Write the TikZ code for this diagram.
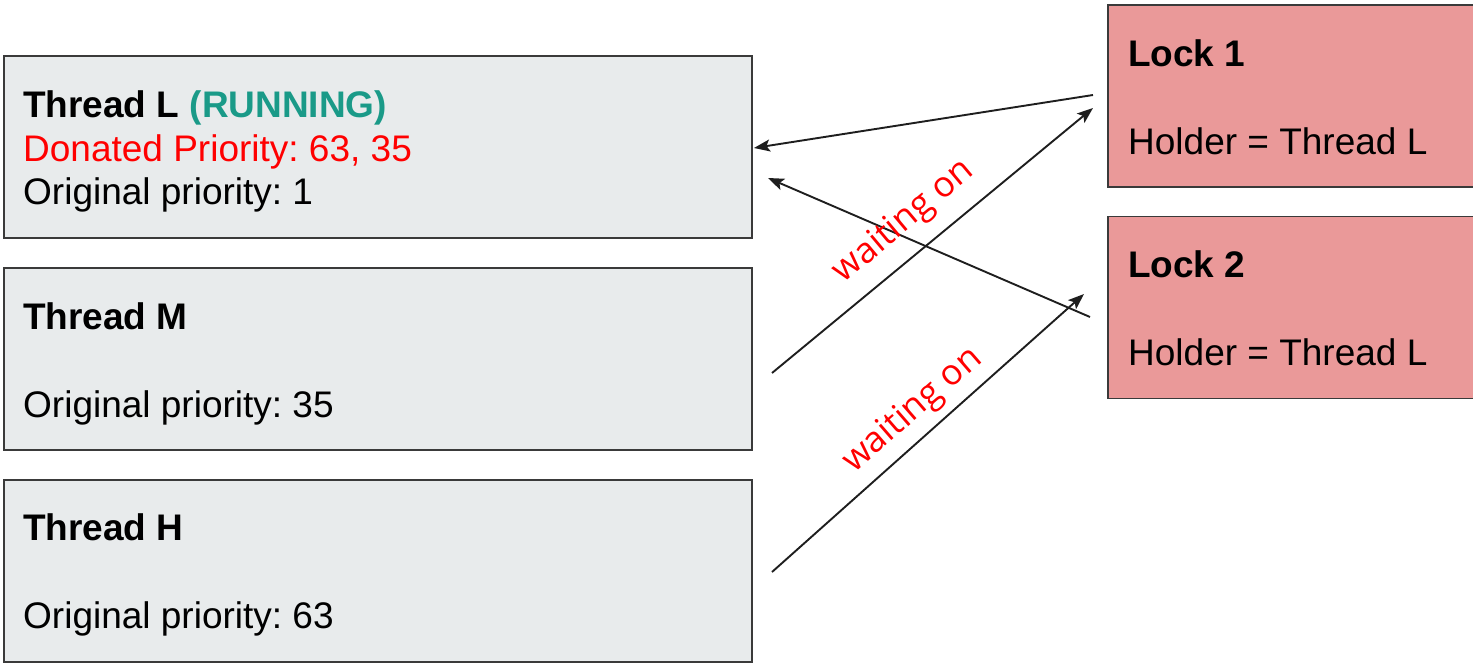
\documentclass[tikz,border=0pt]{standalone}
\usepackage{fontspec}
\setmainfont{Liberation Sans}
\newfontfamily\labelfont{Open Sans}
\usetikzlibrary{arrows.meta}
\frenchspacing
\definecolor{threadfill}{HTML}{E8EBEC}
\definecolor{lockfill}{HTML}{EA9999}
\definecolor{boxline}{HTML}{3A3A3A}
\definecolor{runteal}{HTML}{1A9A88}
\definecolor{donred}{HTML}{FF0000}
\definecolor{arrowline}{HTML}{1E1E1E}
\tikzset{
  box/.style={draw=boxline, line width=1.6pt, inner sep=0pt},
  threadbox/.style={box, fill=threadfill, minimum width=748pt, minimum height=182pt},
  lockbox/.style={box, fill=lockfill, minimum width=380pt, minimum height=182pt},
  txt/.style={anchor=base west, inner sep=0pt, font=\fontsize{37}{44}\selectfont},
  head/.style={txt, font=\fontsize{37}{44}\selectfont\bfseries},
  link/.style={draw=arrowline, line width=1.9pt, -{Stealth[length=16pt, width=12pt, inset=3.5pt]}},
  waitlabel/.style={inner sep=0pt, text=donred, font=\labelfont\fontsize{35.5}{42}\selectfont}
}
\begin{document}
\begin{tikzpicture}[x=1pt, y=-1pt]
\useasboundingbox (0,0) rectangle (1473,665);

% thread boxes
\node[threadbox] (tl) at (378,147) {};
\node[threadbox] (tm) at (378,359) {};
\node[threadbox] (th) at (378,571) {};
% lock boxes (running off the right edge)
\node[lockbox] (l1) at (1298,96) {};
\node[lockbox] (l2) at (1298,307.5) {};

% thread texts
\node[head] (tlname) at (23,117) {Thread L \textcolor{runteal}{(RUNNING)}};
\node[txt, text=donred] (tldon) at (23,161) {Donated Priority: 63, 35};
\node[txt] (tlorig) at (23,204) {Original priority: 1};
\node[head] (tmname) at (23,329) {Thread M};
\node[txt] (tmorig) at (23,417) {Original priority: 35};
\node[head] (thname) at (23,540) {Thread H};
\node[txt] (thorig) at (23,628) {Original priority: 63};

% lock texts
\node[head] (l1name) at (1128,66) {Lock 1};
\node[txt] (l1hold) at (1128,154) {Holder = Thread L};
\node[head] (l2name) at (1128,277) {Lock 2};
\node[txt] (l2hold) at (1128,365) {Holder = Thread L};

% connector end points
\coordinate (l1out) at (1093,95);
\coordinate (tlin1) at (754,148);
\coordinate (l2out) at (1090,317);
\coordinate (tlin2) at (768,178);
\coordinate (tmout) at (772,373);
\coordinate (l1in) at (1093,108);
\coordinate (thout) at (772,572);
\coordinate (l2in) at (1084,294);

% holders point back to Thread L
\draw[link] (l1out) -- (tlin1);
\draw[link] (l2out) -- (tlin2);
% waiting threads point to the locks
\draw[link] (tmout) -- (l1in);
\draw[link] (thout) -- (l2in);

% labels
\node[waitlabel, rotate=40] (w1) at (904,222) {waiting on};
\node[waitlabel, rotate=41] (w2) at (913,411) {waiting on};
\end{tikzpicture}
\end{document}
